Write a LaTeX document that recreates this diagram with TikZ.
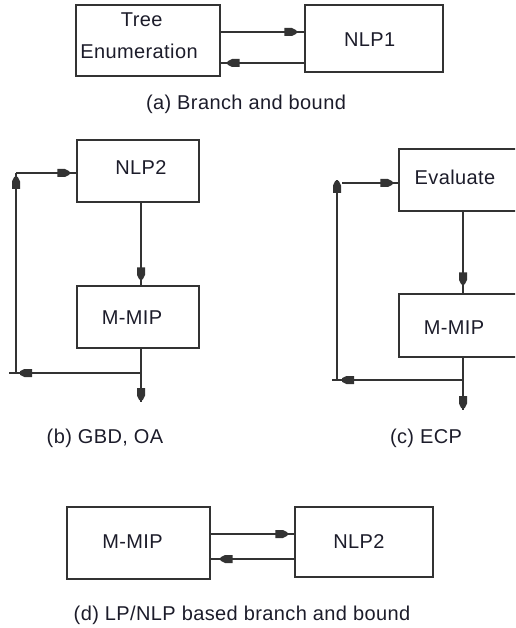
\documentclass[tikz,border=0pt]{standalone}
\usepackage{fontspec}
\setmainfont[LetterSpace=2]{Liberation Sans}
\usetikzlibrary{decorations.markings}
\definecolor{linecol}{HTML}{333333}
\definecolor{textcol}{HTML}{1C1C2A}
\tikzset{
  box/.style={draw=linecol, line width=1.4pt, inner sep=0pt},
  lbl/.style={font=\fontsize{20}{24}\selectfont, text=textcol, inner sep=0pt, anchor=base},
  conn/.style={draw=linecol, line width=1.4pt},
  tipat/.style={postaction={decorate, decoration={markings,
      mark=at position -#1 with {\fill[linecol] (-12pt,-4pt) -- (-4.5pt,-4pt) -- (0pt,-1.8pt) -- (0pt,1.8pt) -- (-4.5pt,4pt) -- (-12pt,4pt) -- cycle;}}}},
}
\begin{document}
\begin{tikzpicture}[x=1pt, y=-1pt]
\useasboundingbox (0,0) rectangle (515,628);
\clip (0,0) rectangle (515,628);
% (a)
\node[box, minimum width=144pt, minimum height=71pt] (tree) at (148,40.5) {};
\node[box, minimum width=138pt, minimum height=67pt] (nlpa) at (374,38.5) {};
\node[lbl] (treet1) at (141.7,27) {Tree};
\node[lbl] (treet2) at (139,59) {Enumeration};
\node[lbl] (nlpat) at (369.7,47) {NLP1};
\node[lbl] (capa) at (246,110) {(a) Branch and bound};
\coordinate (a1) at (0,32);
\coordinate (a2) at (0,63);
\draw[conn, tipat=8pt] (tree.east |- a1) -- (nlpa.west |- a1);
\draw[conn, tipat=7pt] (nlpa.west |- a2) -- (tree.east |- a2);
% (b)
\node[box, minimum width=122pt, minimum height=62pt] (nlpb) at (138,171) {};
\node[box, minimum width=122pt, minimum height=62pt] (mipb) at (138,317) {};
\node[lbl] (nlpbt) at (141,175) {NLP2};
\node[lbl] (mipbt) at (132,324) {M-MIP};
\node[lbl] (capb) at (105,443) {(b) GBD, OA};
\coordinate (bx) at (141,0);
\coordinate (bout) at (141,402);
\coordinate (bsplit) at (141,373);
\coordinate (bstub) at (9,373);
\coordinate (bc1) at (16,373);
\coordinate (bc2) at (16,173);
\draw[conn, tipat=6pt] (nlpb.south -| bx) -- (mipb.north -| bx);
\draw[conn, tipat=2pt] (mipb.south -| bx) -- (bout);
\draw[conn, tipat=11pt] (bsplit) -- (bstub);
\draw[conn, tipat=4pt] (bc1) -- (bc2);
\draw[conn, tipat=7pt] (bc2) -- (nlpb.west |- bc2);
% (c)
\node[box, minimum width=141pt, minimum height=62pt] (evalc) at (469.5,180) {};
\node[box, minimum width=141pt, minimum height=63pt] (mipc) at (469.5,325.5) {};
\node[lbl] (evalct) at (455,185) {Evaluate};
\node[lbl] (mipct) at (454,334) {M-MIP};
\node[lbl] (capc) at (426,443) {(c) ECP};
\coordinate (cx) at (463,0);
\coordinate (cout) at (463,410);
\coordinate (csplit) at (463,380);
\coordinate (cstub) at (332,380);
\coordinate (cc1) at (337,380);
\coordinate (cc2) at (337,180);
\coordinate (cc3) at (342,183);
\draw[conn, tipat=9pt] (evalc.south -| cx) -- (mipc.north -| cx);
\draw[conn, tipat=2pt] (mipc.south -| cx) -- (cout);
\draw[conn, tipat=10pt] (csplit) -- (cstub);
\draw[conn, tipat=1pt] (cc1) -- (cc2);
\draw[conn, tipat=6pt] (cc3) -- (evalc.west |- cc3);
% (d)
\node[box, minimum width=143pt, minimum height=72pt] (mipd) at (138.5,543) {};
\node[box, minimum width=138pt, minimum height=70pt] (nlpd) at (364,542) {};
\node[lbl] (mipdt) at (132.5,548) {M-MIP};
\node[lbl] (nlpdt) at (359,548) {NLP2};
\node[lbl] (capd) at (242,620) {(d) LP/NLP based branch and bound};
\coordinate (d1) at (0,534);
\coordinate (d2) at (0,559);
\draw[conn, tipat=7pt] (mipd.east |- d1) -- (nlpd.west |- d1);
\draw[conn, tipat=10pt] (nlpd.west |- d2) -- (mipd.east |- d2);
\end{tikzpicture}
\end{document}
